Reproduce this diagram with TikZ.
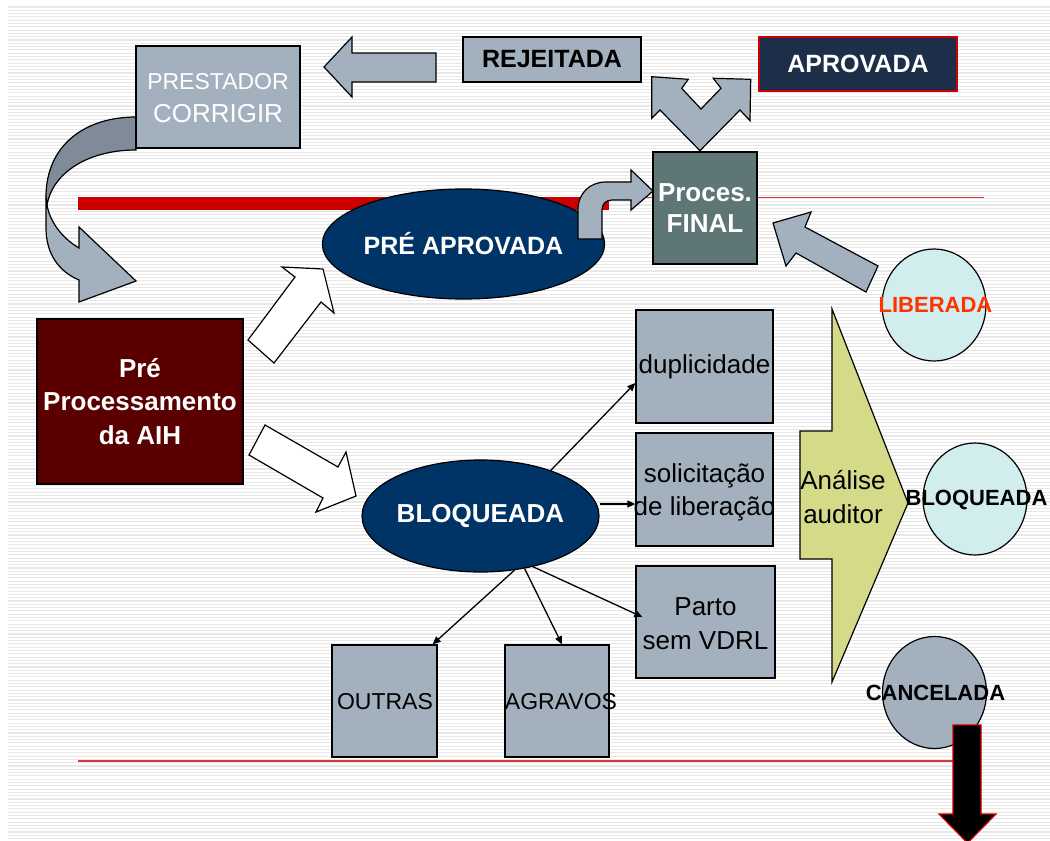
\documentclass[tikz,border=0pt]{standalone}
\usepackage{fontspec}
\setmainfont{Liberation Sans}
\usetikzlibrary{arrows.meta,shapes.geometric}
\definecolor{steel}{HTML}{A3B1BF}
\definecolor{steeldark}{HTML}{7F8B98}
\definecolor{slate}{HTML}{5E7676}
\definecolor{maroon}{HTML}{5A0000}
\definecolor{navy}{HTML}{003366}
\definecolor{ink}{HTML}{1C2E48}
\definecolor{olive}{HTML}{D4DA88}
\definecolor{mint}{HTML}{D1EDEE}
\definecolor{bar}{HTML}{CC0000}
\definecolor{rule}{HTML}{D83A3A}
\definecolor{stripe}{HTML}{E8E8E8}
\definecolor{alert}{HTML}{FF3300}

\begin{document}
\begin{tikzpicture}[x=1pt,y=-1pt,
  box/.style={rectangle, draw=black, line width=1.3pt, inner sep=0pt},
  graybox/.style={box, fill=steel},
  oval/.style={ellipse, draw=black, line width=1.2pt, fill=navy, inner sep=0pt, text=white},
  disc/.style={ellipse, draw=black, line width=1.2pt, inner sep=0pt, minimum width=104pt, minimum height=112pt},
  blockarrow/.style={fill=steel, draw=black, line width=1.2pt, line join=miter},
  hollowarrow/.style={fill=white, draw=black, line width=1.2pt, line join=miter},
  conn/.style={line width=1.3pt, -{Triangle[length=8pt,width=7pt]}},
  plain/.style={inner sep=0pt, align=center, font=\fontsize{26}{33}\selectfont},
  heavy/.style={inner sep=0pt, align=center, font=\fontsize{25}{30}\selectfont\bfseries},
  tag/.style={inner sep=0pt, font=\fontsize{22}{26}\selectfont\bfseries}]

\useasboundingbox (0,0) rectangle (1050,841);
\fill[white] (0,0) rectangle (1050,841);
% striped slide background
\foreach \i in {0,...,252}
  \draw[stripe, line width=1.1pt] (8,{7+3.3*\i}) -- (1050,{7+3.3*\i});

% red rules
\draw[rule, line width=1.8pt] (78,197.5) -- (984,197.5);
\fill[bar] (78,196.5) rectangle (609,210);
\draw[rule, line width=1.8pt] (78,761) -- (954,761);

% twisted return arrow from the provider box
\path[fill=steel, draw=black, line width=1.2pt, line join=miter]
  (46,197) -- (46,228) .. controls (46,255) and (60,272) .. (79,280)
  -- (79,302) -- (136,281) -- (79,227) -- (79,248)
  .. controls (62,238) and (50,222) .. (47,205) -- cycle;
\path[fill=steeldark, draw=black, line width=1.2pt]
  (136,117) .. controls (85,117) and (46,145) .. (46,197)
  -- (47,205) .. controls (52,175) and (85,150) .. (136,150) -- cycle;

% boxes
\node[graybox, minimum width=164pt, minimum height=102pt] (prest) at (218,97) {};
\node[inner sep=0pt, align=center, text=white, font=\fontsize{23}{33}\selectfont] (prestt) at (218,98)
  {PRESTADOR\\{\fontsize{26}{33}\selectfont CORRIGIR}};
\node[graybox, heavy, minimum width=178pt, minimum height=45pt] (rej) at (552,59.5) {REJEITADA};
\node[box, heavy, draw=bar, fill=ink, text=white, minimum width=198pt, minimum height=54pt] (apr) at (858,64) {APROVADA};
\node[box, fill=slate, text=white, align=center, minimum width=104pt, minimum height=112pt,
  font=\fontsize{26}{31.5}\selectfont\bfseries] (final) at (705,208) {Proces.\\FINAL};
\node[box, fill=maroon, text=white, align=center, minimum width=206pt, minimum height=165pt,
  font=\fontsize{26}{33.5}\selectfont\bfseries] (pre) at (140,401.5) {Pré\\Processamento\\da AIH};

% arrow back to the provider
\path[blockarrow] (324,67) -- (352,37) -- (352,53) -- (436,53) -- (436,82) -- (352,82) -- (352,97) -- cycle;
% split arrow above the final processing
\path[blockarrow] (651.7,76.7) -- (688.3,79.3) -- (681.7,88.3) -- (701,109) -- (721,88.3) -- (713.3,78.3)
  -- (750.7,79.3) -- (750,120.7) -- (740,110) -- (700,150.7) -- (660,110) -- (651.7,118.3) -- cycle;

% ovals
\node[oval, minimum width=279pt, minimum height=110pt, font=\fontsize{25}{30}\selectfont\bfseries] (preap) at (463.5,244) {PRÉ APROVADA};
\node[oval, minimum width=231pt, minimum height=112pt, font=\fontsize{26}{30}\selectfont\bfseries] (bloq) at (480.5,516) {BLOQUEADA};

% bent arrow into the final processing
\path[blockarrow] (578,239) -- (578,210) .. controls (578,193) and (590,182) .. (606,182)
  -- (631,182) -- (631,170) -- (653,191) -- (631,210) -- (631,200) -- (612,200)
  .. controls (606,200) and (602,204) .. (602,210) -- (602,239) -- cycle;

% hollow arrows out of the pre-processing
\path[hollowarrow] (248,340) -- (295,277) -- (282,267) -- (323,269) -- (334,313) -- (321,302) -- (274,363) -- cycle;
\path[hollowarrow] (265,425) -- (338,467) -- (346,452) -- (356,496) -- (316,512) -- (323,498) -- (249,455) -- cycle;

% block reasons
\node[graybox, minimum width=137pt, minimum height=113pt] (dup) at (704.5,366.5) {};
\node[graybox, minimum width=137pt, minimum height=113pt] (sol) at (704.5,489.5) {};
\node[graybox, minimum width=139pt, minimum height=112pt] (parto) at (705.5,622) {};
\node[graybox, minimum width=105pt, minimum height=112pt] (outras) at (384.5,701) {};
\node[graybox, minimum width=104pt, minimum height=112pt] (agr) at (557,701) {};
\node[plain] (dupt) at (704.5,367) {duplicidade};
\node[plain] (solt) at (704.5,492) {solicitação\\de liberação};
\node[plain, font=\fontsize{26}{34}\selectfont] (partot) at (705.5,624) {Parto\\sem VDRL};
\node[plain, font=\fontsize{23}{28}\selectfont] (outrast) at (385,702) {OUTRAS};
\node[plain, font=\fontsize{23}{28}\selectfont] (agrt) at (561,702) {AGRAVOS};

\draw[conn] (bloq.33) -- ([yshift=-16.5pt]dup.west);
\draw[conn] ([yshift=12pt]bloq.east) -- ([yshift=-14.5pt]sol.west);
\draw[conn] (bloq.-44) -- ([xshift=7pt,yshift=5pt]parto.west);
\draw[conn] (bloq.-58) -- ([xshift=-5pt]outras.north east);
\draw[conn] (bloq.-50) -- ([xshift=5pt]agr.north);

% auditor analysis
\path[fill=olive, draw=black, line width=1.2pt, line join=miter]
  (800,431) -- (832,431) -- (832,309) -- (908,503) -- (832,682) -- (832,559) -- (800,559) -- cycle;
\node[plain, font=\fontsize{26}{34}\selectfont] (anal) at (843,497) {Análise\\auditor};

% outcomes
\node[disc, fill=mint] (lib) at (934,305) {};
\node[tag, text=alert] (libt) at (935.5,305) {LIBERADA};
\node[disc, fill=mint] (blq) at (975,499) {};
\node[tag] (blqt) at (976.5,500) {BLOQUEADA};
\node[disc, fill=steel] (canc) at (934.5,692.5) {};
\node[tag] (canct) at (935.5,693) {CANCELADA};

% released goes back to final processing
\path[blockarrow] (773,223) -- (811,212) -- (805,227) -- (878,266) -- (866,292) -- (796,253) -- (786,266) -- cycle;

% cancelled leaves the flow
\path[fill=black, draw=bar, line width=1.2pt, line join=miter]
  (953,725) -- (981,725) -- (981,814) -- (996,814) -- (967.5,843) -- (939,814) -- (953,814) -- cycle;
\end{tikzpicture}
\end{document}
